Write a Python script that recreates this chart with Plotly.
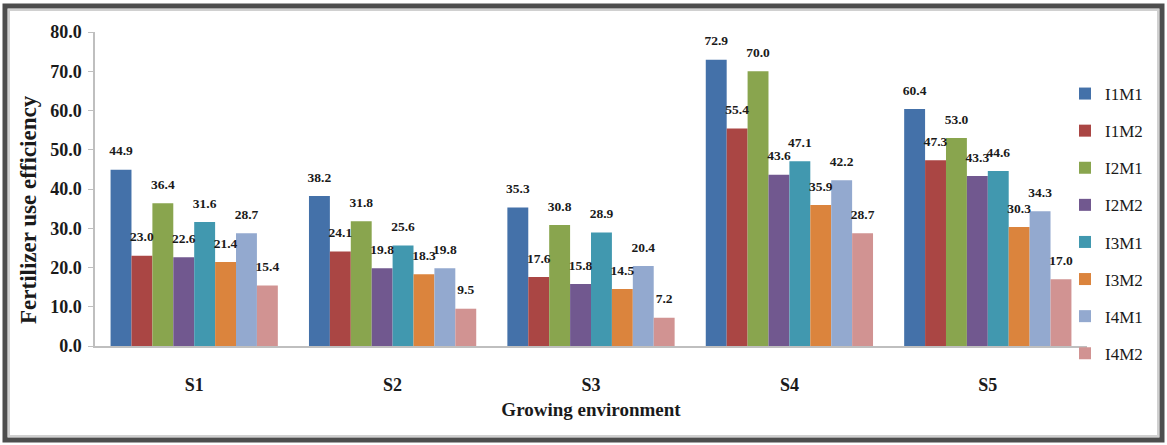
import plotly.graph_objects as go

categories = ["S1", "S2", "S3", "S4", "S5"]
series_names = ["I1M1", "I1M2", "I2M1", "I2M2", "I3M1", "I3M2", "I4M1", "I4M2"]
I1M1 = [44.9, 38.2, 35.3, 72.9, 60.4]
I1M2 = [23.0, 24.1, 17.6, 55.4, 47.3]
I2M1 = [36.4, 31.8, 30.8, 70.0, 53.0]
I2M2 = [22.6, 19.8, 15.8, 43.6, 43.3]
I3M1 = [31.6, 25.6, 28.9, 47.1, 44.6]
I3M2 = [21.4, 18.3, 14.5, 35.9, 30.3]
I4M1 = [28.7, 19.8, 20.4, 42.2, 34.3]
I4M2 = [15.4, 9.5, 7.2, 28.7, 17.0]
series_values = [I1M1, I1M2, I2M1, I2M2, I3M1, I3M2, I4M1, I4M2]
colors = ["#4471A9", "#AA4644", "#89A54E", "#71588F", "#4198AF", "#DB843D", "#93A9CF", "#D19392"]

SERIF = "Liberation Serif, Times New Roman, serif"

W, H = 1167, 445
L, R, T, B = 95, 80, 32, 99
pw, ph = W - L - R, H - T - B
GAP = 0.157

fig = go.Figure()
for i, (name, vals) in enumerate(zip(series_names, series_values)):
    fig.add_trace(go.Bar(
        name=name, x=categories, y=vals,
        marker=dict(color=colors[i], line=dict(width=0)),
        offsetgroup=name, legendgroup=name, hoverinfo="x+y+name",
    ))
for i, (name, vals) in enumerate(zip(series_names, series_values)):
    fig.add_trace(go.Scatter(
        name=name, x=categories, y=vals, mode="markers+text",
        marker=dict(size=16, opacity=0, color=colors[i]),
        text=[f"{v:.1f}" for v in vals], textposition="top center",
        textfont=dict(family=SERIF, size=13.5, color="#1a1a1a", weight="bold"),
        offsetgroup=name, showlegend=False, cliponaxis=False, hoverinfo="skip",
    ))

def px_x(p):
    return (p - L) / pw

def px_y(p):
    return (H - B - p) / ph

fig.update_layout(
    width=W, height=H,
    margin=dict(l=L, r=R, t=T, b=B, autoexpand=False),
    paper_bgcolor="white", plot_bgcolor="white",
    barmode="group", bargap=GAP, bargroupgap=0,
    scattermode="group", scattergap=GAP,
    showlegend=True,
    legend=dict(
        x=px_x(1065), xanchor="left", y=px_y(76), yanchor="top",
        font=dict(family=SERIF, size=17, color="#1a1a1a"),
        tracegroupgap=12, traceorder="grouped",
        bgcolor="rgba(0,0,0,0)", itemwidth=30, maxheight=440,
    ),
    xaxis=dict(
        showline=True, linecolor="#BFBFBF", linewidth=1.5,
        ticks="outside", ticklen=22, tickcolor="rgba(0,0,0,0)",
        tickfont=dict(family=SERIF, size=18, color="#1a1a1a", weight="bold"),
        title=dict(text="Growing environment", standoff=8,
                   font=dict(family=SERIF, size=19, color="#1a1a1a", weight="bold")),
        showgrid=False, automargin=False,
    ),
    yaxis=dict(
        range=[0, 80], dtick=10, tickformat=".1f",
        showline=True, linecolor="#BFBFBF", linewidth=1.5,
        ticks="outside", ticklen=5, tickcolor="#BFBFBF", ticklabelstandoff=3,
        tickfont=dict(family=SERIF, size=18, color="#1a1a1a", weight="bold"),
        showgrid=False, zeroline=False, automargin=False,
    ),
    annotations=[
        dict(text="Fertilizer use efficiency", textangle=-90,
             xref="paper", yref="paper", x=px_x(28), y=px_y(210),
             xanchor="center", yanchor="middle", showarrow=False,
             font=dict(family=SERIF, size=23, color="#1a1a1a", weight="bold")),
    ],
    shapes=[
        dict(type="rect", xref="paper", yref="paper",
             x0=px_x(5), x1=px_x(1162), y0=px_y(440), y1=px_y(6),
             line=dict(color="#4D4D4D", width=5), fillcolor="rgba(0,0,0,0)",
             layer="above"),
        dict(type="rect", xref="paper", yref="paper",
             x0=px_x(9), x1=px_x(1158), y0=px_y(436), y1=px_y(10),
             line=dict(color="#D0D0D0", width=2), fillcolor="rgba(0,0,0,0)",
             layer="above"),
    ],
)

fig.write_html("out.html", config={"displayModeBar": False},
               post_script="document.body.style.margin='0';")
